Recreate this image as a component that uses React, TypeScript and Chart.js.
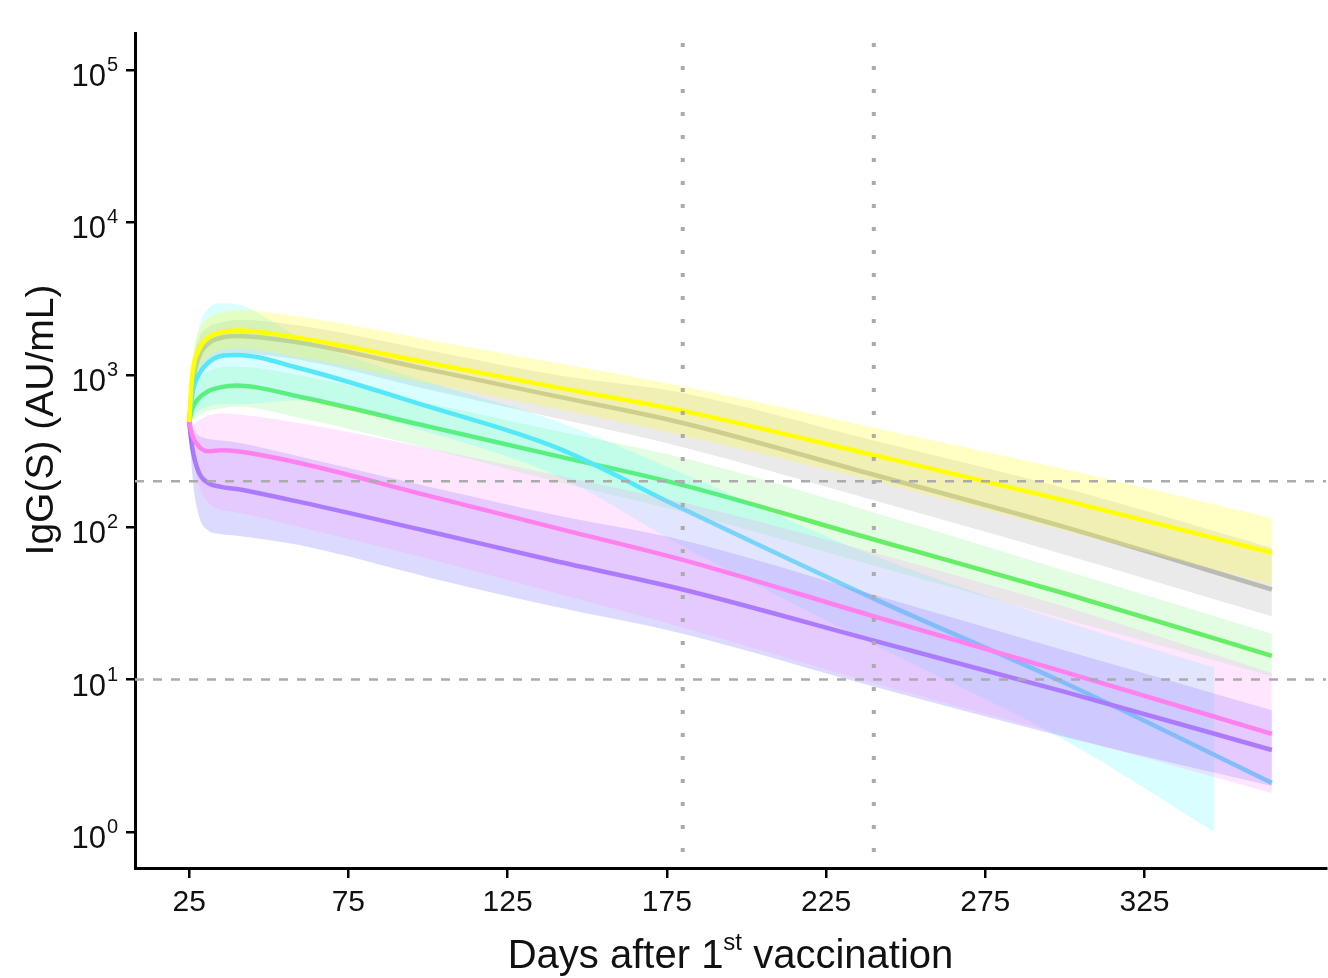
import React, { useEffect, useRef } from 'react';
import { Chart, registerables } from 'chart.js';

Chart.register(...registerables);

// ---- data ----
const days = [25, 26, 28, 31, 35, 40, 60, 100, 140, 180, 240, 300, 365];
const cyanBandDays = [25, 26, 28, 31, 35, 40, 60, 100, 140, 180, 240, 300, 347];

const yellowMid = [490, 1000, 1450, 1750, 1900, 1950, 1740, 1200, 830, 580, 297, 150, 68];
const yellowHigh = [500, 1200, 1900, 2350, 2550, 2650, 2400, 1700, 1200, 840, 450, 240, 115];
const yellowLow = [480, 800, 1100, 1300, 1450, 1480, 1300, 880, 600, 400, 200, 95, 42];

const grayMid = [490, 850, 1300, 1600, 1750, 1800, 1620, 1085, 725, 483, 221, 100, 39];
const grayHigh = [500, 1050, 1700, 2050, 2200, 2300, 2100, 1450, 1000, 760, 370, 180, 73];
const grayLow = [480, 680, 1000, 1200, 1350, 1380, 1250, 800, 520, 335, 150, 66, 26];

const cyanMid = [490, 750, 1000, 1200, 1330, 1350, 1100, 620, 335, 132, 34, 9.5, 2.1];
const cyanHigh = [500, 1100, 2000, 2700, 2950, 2900, 1750, 900, 500, 225, 65, 24, 12];
const cyanLow = [480, 520, 580, 620, 640, 640, 680, 420, 220, 75, 17, 4.0, 1.0];

const greenMid = [490, 600, 700, 780, 830, 850, 715, 459, 295, 189, 83, 36.7, 14.3];
const greenHigh = [500, 720, 920, 1050, 1120, 1130, 990, 650, 430, 285, 125, 52, 20];
const greenLow = [480, 500, 540, 580, 600, 620, 520, 330, 200, 126, 56, 25, 10.5];

const pinkMid = [490, 400, 340, 315, 320, 315, 263, 161, 99, 61, 26, 11.2, 4.4];
const pinkHigh = [500, 480, 500, 540, 560, 550, 480, 330, 220, 145, 68, 30, 11];
const pinkLow = [480, 300, 190, 145, 130, 125, 100, 62, 37, 22, 9.5, 4.3, 1.8];

const purpleMid = [490, 330, 230, 195, 184, 178, 146, 94, 60, 39, 18, 8.3, 3.45];
const purpleHigh = [500, 450, 400, 380, 370, 360, 290, 185, 120, 82, 36, 15.5, 6.3];
const purpleLow = [480, 220, 120, 95, 90, 88, 76, 47, 30, 20, 9, 4.2, 2.0];

const xTicks = [25, 75, 125, 175, 225, 275, 325];
const yTicks = [1, 10, 100, 1000, 10000, 100000];
const yTickExponents = ['0', '1', '2', '3', '4', '5'];
const refDays = [180, 240];
const refLevels = [10, 200];

const xTitleMain = 'Days after 1';
const xTitleSup = 'st';
const xTitleRest = ' vaccination';
const yTitle = 'IgG(S) (AU/mL)';

const FONT = '"Liberation Sans", Arial, Helvetica, sans-serif';

type Series = {
  lineDays: number[];
  bandDays: number[];
  mid: number[];
  low: number[];
  high: number[];
  line: string;
  band: string;
};

// drawing sequence: each ribbon then its line, series by series
const series: Series[] = [
  { lineDays: days, bandDays: days, mid: grayMid, low: grayLow, high: grayHigh, line: '#bbbbb4', band: 'rgba(185,185,185,0.30)' },
  { lineDays: days, bandDays: days, mid: greenMid, low: greenLow, high: greenHigh, line: '#66ee66', band: 'rgba(110,245,110,0.20)' },
  { lineDays: days, bandDays: cyanBandDays, mid: cyanMid, low: cyanLow, high: cyanHigh, line: '#55e8fa', band: 'rgba(40,250,255,0.18)' },
  { lineDays: days, bandDays: days, mid: purpleMid, low: purpleLow, high: purpleHigh, line: '#9575ff', band: 'rgba(130,125,255,0.28)' },
  { lineDays: days, bandDays: days, mid: pinkMid, low: pinkLow, high: pinkHigh, line: '#ff80ee', band: 'rgba(255,140,250,0.22)' },
  { lineDays: days, bandDays: days, mid: yellowMid, low: yellowLow, high: yellowHigh, line: '#ffff00', band: 'rgba(255,255,40,0.28)' },
];

function pts(xs: number[], ys: number[]) {
  return xs.map((x, i) => ({ x, y: ys[i] }));
}

const overlayPlugin = {
  id: 'overlay',
  afterDatasetsDraw(chart: any) {
    const { ctx, chartArea: a, scales } = chart;
    const x = scales.x;
    const y = scales.y;
    ctx.save();
    ctx.beginPath();
    ctx.rect(a.left, a.top, a.right - a.left, a.bottom - a.top);
    ctx.clip();
    ctx.strokeStyle = '#ababab';
    ctx.lineCap = 'butt';
    ctx.lineWidth = 2.5;
    ctx.setLineDash([9, 9]);
    refLevels.forEach((v) => {
      const py = y.getPixelForValue(v);
      ctx.beginPath();
      ctx.moveTo(a.left, py);
      ctx.lineTo(a.right, py);
      ctx.stroke();
    });
    ctx.lineWidth = 4;
    ctx.setLineDash([4, 19]);
    refDays.forEach((d) => {
      const px = x.getPixelForValue(d);
      ctx.beginPath();
      ctx.moveTo(px, a.top + 10);
      ctx.lineTo(px, a.bottom);
      ctx.stroke();
    });
    ctx.restore();
  },
  afterDraw(chart: any) {
    const { ctx, chartArea: a, scales } = chart;
    const x = scales.x;
    const y = scales.y;
    ctx.save();
    ctx.fillStyle = '#111';
    ctx.textBaseline = 'alphabetic';
    // y tick labels 10^n
    const right = 118;
    yTicks.forEach((v, i) => {
      const py = y.getPixelForValue(v);
      ctx.font = `20px ${FONT}`;
      const ws = ctx.measureText(yTickExponents[i]).width;
      ctx.font = `31px ${FONT}`;
      const wb = ctx.measureText('10').width;
      ctx.textAlign = 'left';
      ctx.fillText('10', right - ws - 1 - wb, py + 16);
      ctx.font = `20px ${FONT}`;
      ctx.fillText(yTickExponents[i], right - ws, py + 1);
    });
    // x tick labels
    ctx.font = `30px ${FONT}`;
    ctx.textAlign = 'center';
    xTicks.forEach((d) => {
      ctx.fillText(String(d), x.getPixelForValue(d), 911);
    });
    // x title with superscript
    ctx.textAlign = 'left';
    ctx.font = `40px ${FONT}`;
    const w1 = ctx.measureText(xTitleMain).width;
    const w3 = ctx.measureText(xTitleRest).width;
    ctx.font = `24px ${FONT}`;
    const w2 = ctx.measureText(xTitleSup).width;
    const total = w1 + w2 + w3;
    let sx = (a.left + a.right) / 2 - total / 2;
    ctx.font = `40px ${FONT}`;
    ctx.fillText(xTitleMain, sx, 968);
    sx += w1;
    ctx.font = `24px ${FONT}`;
    ctx.fillText(xTitleSup, sx, 950);
    sx += w2;
    ctx.font = `40px ${FONT}`;
    ctx.fillText(xTitleRest, sx, 968);
    // y title
    ctx.save();
    ctx.translate(42, 420);
    ctx.rotate(-Math.PI / 2);
    ctx.textAlign = 'center';
    ctx.textBaseline = 'middle';
    ctx.font = `39px ${FONT}`;
    ctx.fillText(yTitle, 0, 0);
    ctx.restore();
    ctx.restore();
  },
};

export default function App() {
  const ref = useRef<HTMLCanvasElement | null>(null);

  useEffect(() => {
    if (!ref.current) return;
    const datasets: any[] = [];
    let seq = 0;
    series.forEach((s) => {
      datasets.push({
        data: pts(s.bandDays, s.low),
        borderColor: 'rgba(0,0,0,0)',
        borderWidth: 0,
        pointRadius: 0,
        fill: false,
        cubicInterpolationMode: 'monotone',
        order: 100 - seq++,
      });
      datasets.push({
        data: pts(s.bandDays, s.high),
        borderColor: 'rgba(0,0,0,0)',
        borderWidth: 0,
        pointRadius: 0,
        backgroundColor: s.band,
        fill: '-1',
        cubicInterpolationMode: 'monotone',
        order: 100 - seq++,
      });
      datasets.push({
        data: pts(s.lineDays, s.mid),
        borderColor: s.line,
        borderWidth: 4.5,
        pointRadius: 0,
        fill: false,
        cubicInterpolationMode: 'monotone',
        order: 100 - seq++,
      });
    });

    const chart = new Chart(ref.current, {
      type: 'line',
      data: { datasets },
      options: {
        animation: false,
        responsive: false,
        layout: { padding: { left: 0, top: 33, right: 2, bottom: 0 } },
        plugins: {
          legend: { display: false },
          tooltip: { enabled: false },
          filler: { propagate: false },
        },
        scales: {
          x: {
            type: 'linear',
            min: 8,
            max: 382,
            afterBuildTicks: (s: any) => {
              s.ticks = xTicks.map((v) => ({ value: v }));
            },
            afterFit: (s: any) => {
              s.height = 110;
            },
            ticks: { display: false },
            grid: { display: true, drawOnChartArea: false, drawTicks: true, tickLength: 10, color: '#000', lineWidth: 2.5 },
            border: { display: true, color: '#000', width: 3 },
          },
          y: {
            type: 'logarithmic',
            min: 0.58,
            max: 175000,
            afterBuildTicks: (s: any) => {
              s.ticks = yTicks.map((v) => ({ value: v }));
            },
            afterFit: (s: any) => {
              s.width = 135;
            },
            ticks: { display: false },
            grid: { display: true, drawOnChartArea: false, drawTicks: true, tickLength: 9, color: '#000', lineWidth: 2.5 },
            border: { display: true, color: '#000', width: 3 },
          },
        },
      } as any,
      plugins: [overlayPlugin],
    });
    return () => chart.destroy();
  }, []);

  return (
    <div style={{ position: 'fixed', left: 0, top: 0, width: 1328, height: 978, background: '#fff' }}>
      <canvas ref={ref} width={1328} height={978} style={{ display: 'block' }} />
    </div>
  );
}
